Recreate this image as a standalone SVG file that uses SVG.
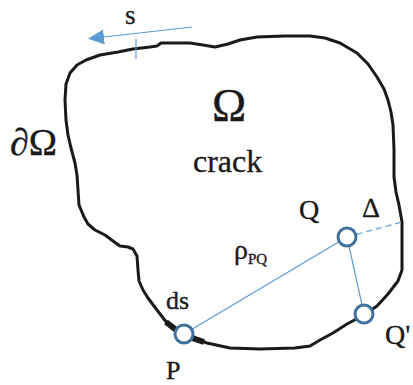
<svg xmlns="http://www.w3.org/2000/svg" width="413" height="385" viewBox="0 0 413 385">
<style>
text{font-family:"Liberation Serif","Times New Roman",serif;fill:#1a1a1a;stroke:#1a1a1a;stroke-width:0.35}
.blue{stroke:#5B9BD5;stroke-width:1.2;fill:none}
.pt{fill:#ffffff;stroke:#41719C;stroke-width:3}
.outline{fill:none;stroke:#1a1a1a;stroke-width:3;stroke-linejoin:round;stroke-linecap:round}
</style>
<defs>
<marker id="ah" markerUnits="userSpaceOnUse" markerWidth="17" markerHeight="16" refX="0" refY="7.5" orient="auto">
<path d="M0,0 L16,7.5 L0,15 z" fill="#5B9BD5"/>
</marker>
</defs>
<rect width="413" height="385" fill="#ffffff"/>
<g id="boundary">
<polyline class="outline" points="65,100 66,84 70,73 77,65 86,60 100,55 118,52 133,49 150,47 157,46 161,43 175,43 190,43 203,45 215,47 228,44 240,40 257,37 285,36 310,36 325,38 340,43 357,53 368,64 377,77 384,89 388,100 391,112 393,125 394,150 394,177 396,192 399,205 402,222 402,250 402,270 398,281 388,294 377,306 364,315 347,324 333,333 320,340 310,346 295,348 260,349 230,348 207,343 195,339 184,334 175,329 167,323 157,310 148,298 143,290 139,281 138,270 137,256 133,249 128,247 120,246 113,241 105,235 95,230 88,224 84,217 79,205 78,190 77,175 75,163 71,148 68,135 66,120 65,100"/>
<polyline points="166,322 175,329 184,334 195,339 204,342" fill="none" stroke="#1a1a1a" stroke-width="6"/>
</g>
<g id="connectors">
<line class="blue" x1="192" y1="27" x2="104" y2="37" marker-end="url(#ah)"/>
<line class="blue" x1="136" y1="39" x2="136" y2="59"/>
<line class="blue" x1="184" y1="334" x2="347" y2="237"/>
<line class="blue" x1="347" y1="237" x2="364" y2="314"/>
<line class="blue" x1="347" y1="237" x2="402" y2="222" stroke-dasharray="6,4"/>
</g>
<g id="P"><circle class="pt" cx="184" cy="334" r="9"/><text x="166" y="379" font-size="26">P</text></g>
<g id="Q"><circle class="pt" cx="347" cy="237" r="9"/><text x="299" y="219" font-size="28">Q</text></g>
<g id="Qp"><circle class="pt" cx="364" cy="314" r="9"/><text x="385" y="344" font-size="28">Q'</text></g>
<g id="labels">
<text x="125" y="24" font-size="27">s</text>
<text x="10" y="155" font-size="38">∂Ω</text>
<text x="229" y="121" font-size="46" text-anchor="middle">Ω</text>
<text x="193" y="172" font-size="32">crack</text>
<text x="362" y="217" font-size="28">Δ</text>
<text x="234" y="259" font-size="28">ρ<tspan font-size="15" dy="5">PQ</tspan></text>
<text x="166" y="309" font-size="26">ds</text>
</g>
</svg>
